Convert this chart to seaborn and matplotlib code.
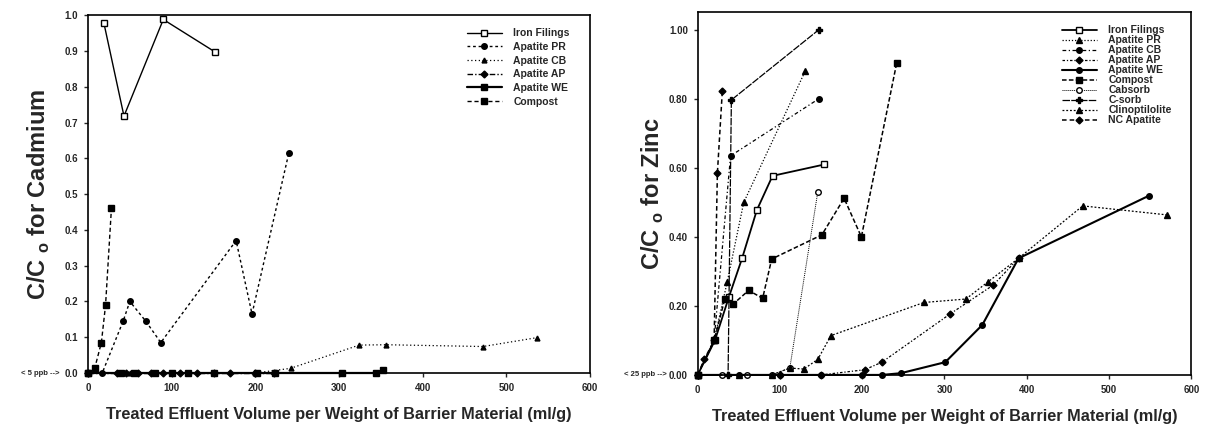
import matplotlib
matplotlib.use("Agg")
import matplotlib.pyplot as plt
import seaborn as sns
import pandas as pd

# ---------------- Cadmium panel data ----------------
cd_iron_x = [19, 43, 90, 152]
cd_iron_y = [0.978, 0.718, 0.988, 0.897]
cd_pr_x = [0, 17, 42, 50, 69, 87, 177, 196, 240]
cd_pr_y = [0.0, 0.0, 0.145, 0.20, 0.145, 0.085, 0.37, 0.165, 0.615]
cd_cb_x = [0, 50, 100, 150, 200, 242, 324, 356, 472, 537]
cd_cb_y = [0.0, 0.0, 0.0, 0.0, 0.0, 0.013, 0.078, 0.079, 0.074, 0.099]
cd_ap_x = [0, 35, 45, 60, 75, 90, 110, 130, 150, 170, 200, 222]
cd_ap_y = [0.0, 0.0, 0.0, 0.0, 0.0, 0.0, 0.0, 0.0, 0.0, 0.0, 0.0, 0.0]
cd_we_x = [0, 40, 55, 80, 100, 120, 150, 202, 223, 304, 344, 352]
cd_we_y = [0.0, 0.0, 0.0, 0.0, 0.0, 0.0, 0.0, 0.0, 0.0, 0.0, 0.0, 0.008]
cd_comp_x = [0, 8, 16, 21, 28]
cd_comp_y = [0.0, 0.013, 0.085, 0.19, 0.46]

# ---------------- Zinc panel data ----------------
zn_iron_x = [0, 21, 38, 54, 72, 91, 154]
zn_iron_y = [0.0, 0.10, 0.226, 0.338, 0.478, 0.577, 0.61]
zn_pr_x = [0, 20, 36, 56, 131]
zn_pr_y = [0.0, 0.10, 0.27, 0.50, 0.882]
zn_cb_x = [0, 20, 40, 147]
zn_cb_y = [0.0, 0.10, 0.635, 0.80]
zn_ap_x = [0, 100, 150, 203, 224, 307, 359, 390]
zn_ap_y = [0.0, 0.0, 0.0, 0.015, 0.037, 0.177, 0.26, 0.338]
zn_we_x = [0, 50, 100, 150, 200, 224, 247, 301, 346, 390, 549]
zn_we_y = [0.0, 0.0, 0.0, 0.0, 0.0, 0.0, 0.005, 0.037, 0.145, 0.338, 0.52]
zn_comp_x = [0, 20, 33, 43, 62, 79, 90, 151, 178, 199, 242]
zn_comp_y = [0.0, 0.10, 0.22, 0.205, 0.245, 0.222, 0.336, 0.406, 0.512, 0.40, 0.905]
zn_cabs_x = [0, 30, 60, 90, 112, 146]
zn_cabs_y = [0.0, 0.0, 0.0, 0.0, 0.02, 0.53]
zn_csorb_x = [0, 37, 41, 147]
zn_csorb_y = [0.0, 0.0, 0.797, 1.00]
zn_clin_x = [0, 50, 90, 112, 129, 146, 162, 275, 326, 353, 390, 468, 570]
zn_clin_y = [0.0, 0.0, 0.0, 0.02, 0.017, 0.045, 0.114, 0.21, 0.22, 0.27, 0.338, 0.49, 0.464]
zn_nc_x = [0, 8, 20, 24, 30]
zn_nc_y = [0.0, 0.045, 0.10, 0.585, 0.823]

x_ticks = [0, 100, 200, 300, 400, 500, 600]
cd_yticks = [0.0, 0.1, 0.2, 0.3, 0.4, 0.5, 0.6, 0.7, 0.8, 0.9, 1.0]
zn_yticks = [0.0, 0.2, 0.4, 0.6, 0.8, 1.0]

sns.set_style("ticks")
plt.rcParams['font.family'] = ['Liberation Sans', 'DejaVu Sans']
plt.rcParams['mathtext.fontset'] = 'custom'
plt.rcParams['mathtext.bf'] = 'Liberation Sans:bold'
plt.rcParams['mathtext.rm'] = 'Liberation Sans'

fig = plt.figure(figsize=(12.07, 4.28), dpi=100)
ax1 = fig.add_axes([0.0729, 0.1285, 0.416, 0.836])
ax2 = fig.add_axes([0.578, 0.124, 0.409, 0.848])

def draw(ax, x, y, label, ls, marker, lw=1.0, mfc='black', ms=4):
    df = pd.DataFrame({'x': x, 'y': y})
    sns.lineplot(data=df, x='x', y='y', ax=ax, sort=False, estimator=None,
                 color='black', linestyle=ls, linewidth=lw, marker=marker,
                 markersize=ms, markerfacecolor=mfc, markeredgecolor='black',
                 markeredgewidth=1.0, label=label, clip_on=False)

# Cadmium
draw(ax1, cd_iron_x, cd_iron_y, 'Iron Filings', '-', 's', 1.0, 'white')
draw(ax1, cd_pr_x, cd_pr_y, 'Apatite PR', (0, (2, 2)), 'o', 1.0)
draw(ax1, cd_cb_x, cd_cb_y, 'Apatite CB', (0, (1, 2)), '^', 0.9, ms=3.5)
draw(ax1, cd_ap_x, cd_ap_y, 'Apatite AP', (0, (4, 1.5, 1, 1.5)), 'D', 1.0, ms=3.5)
draw(ax1, cd_we_x, cd_we_y, 'Apatite WE', '-', 's', 1.6)
draw(ax1, cd_comp_x, cd_comp_y, 'Compost', (0, (3, 2)), 's', 1.0)

# Zinc
draw(ax2, zn_iron_x, zn_iron_y, 'Iron Filings', '-', 's', 1.3, 'white')
draw(ax2, zn_pr_x, zn_pr_y, 'Apatite PR', (0, (1, 1.5)), '^', 0.9)
draw(ax2, zn_cb_x, zn_cb_y, 'Apatite CB', (0, (3, 2, 1, 2)), 'o', 0.9)
draw(ax2, zn_ap_x, zn_ap_y, 'Apatite AP', (0, (2, 1.5, 1, 1.5)), 'D', 0.9, ms=3.5)
draw(ax2, zn_we_x, zn_we_y, 'Apatite WE', '-', 'o', 1.5)
draw(ax2, zn_comp_x, zn_comp_y, 'Compost', (0, (3, 1.5)), 's', 1.1)
draw(ax2, zn_cabs_x, zn_cabs_y, 'Cabsorb', (0, (1, 1)), 'o', 0.7, 'white')
draw(ax2, zn_csorb_x, zn_csorb_y, 'C-sorb', (0, (6, 1)), 'P', 0.9)
draw(ax2, zn_clin_x, zn_clin_y, 'Clinoptilolite', (0, (1.5, 1.5)), '^', 0.9)
draw(ax2, zn_nc_x, zn_nc_y, 'NC Apatite', (0, (3, 2)), 'D', 1.1, ms=3.5)

tick_font = dict(fontsize=7, fontweight='bold')
panels = [
    (ax1, cd_yticks, '{:.1f}', 1.0, 'Cadmium', '< 5 ppb -->', -0.056, 9,
     (0.968, 0.975), 0.35),
    (ax2, zn_yticks, '{:.2f}', 1.052, 'Zinc', '< 25 ppb -->', -0.063, 2,
     (0.969, 0.975), 0.0),
]
for ax, yt, fmt, top, name, note, note_x, lpad, anchor, lsp in panels:
    ax.set_xlim(0, 600)
    ax.set_ylim(0, top)
    ax.set_xticks(x_ticks)
    ax.set_xticklabels([str(t) for t in x_ticks], **tick_font)
    ax.set_yticks(yt)
    ax.set_yticklabels([fmt.format(t) for t in yt], **tick_font)
    ax.tick_params(length=3, width=1, pad=4)
    for s in ax.spines.values():
        s.set_visible(True)
        s.set_linewidth(1.2)
        s.set_color('black')
    ax.set_xlabel('Treated Effluent Volume per Weight of Barrier Material (ml/g)',
                  fontsize=11.7, fontweight='bold', labelpad=10)
    ax.set_ylabel(r'C/C $_{\mathbf{o}}$ for ' + name, fontsize=17, fontweight='bold',
                  labelpad=lpad)
    ax.text(note_x, 0.0, note, transform=ax.transAxes, fontsize=5.5,
            ha='right', va='center', fontweight='bold')
    ax.legend(loc='upper right', bbox_to_anchor=anchor, frameon=False,
              handlelength=3.4, prop=dict(size=7.5, weight='bold'),
              labelspacing=lsp, handletextpad=1.1, borderaxespad=0.0,
              borderpad=0.4)

fig.savefig('out.png', dpi=100)
